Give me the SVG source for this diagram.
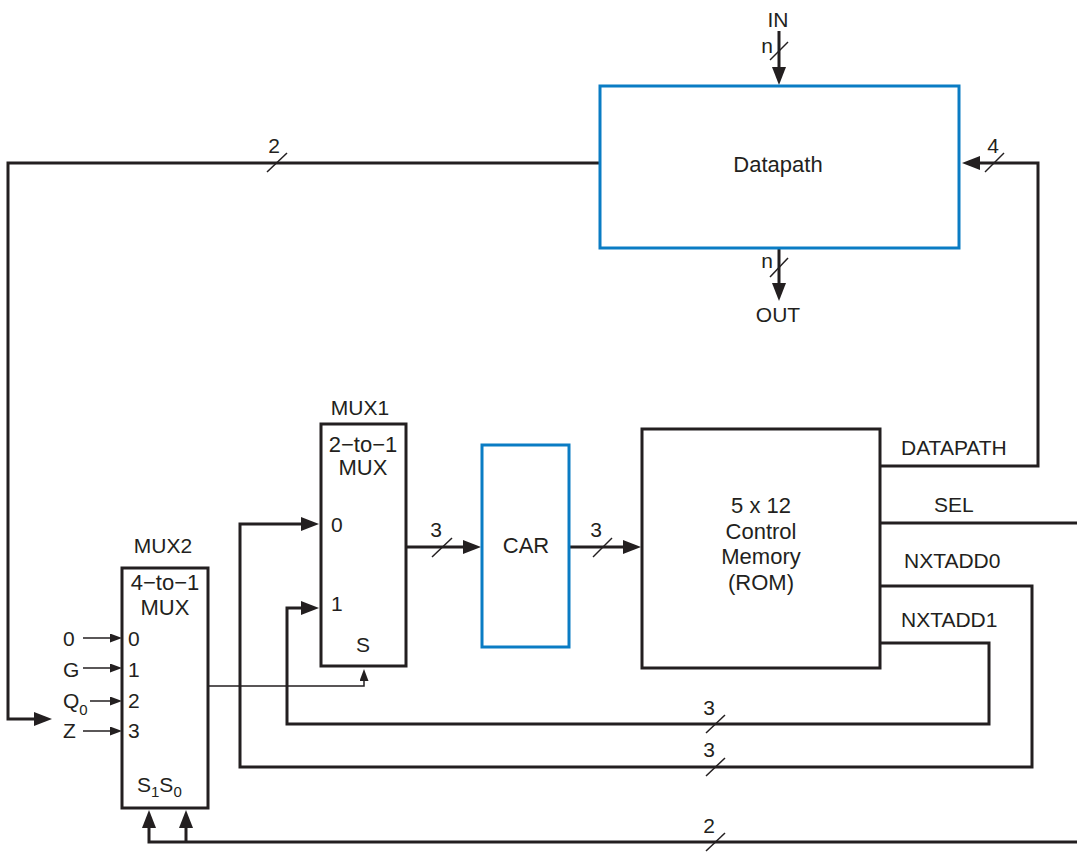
<svg xmlns="http://www.w3.org/2000/svg" width="1077" height="852" viewBox="0 0 1077 852">
<style>
text{font-family:"Liberation Sans",Arial,sans-serif;font-size:21px;fill:#231f20}
.c{text-anchor:middle}
.b{font-size:22px}
.sub{font-size:15px}
.blk{fill:#fff;stroke:#231f20;stroke-width:3}
.blue{fill:#fff;stroke:#0a7cc4;stroke-width:3}
.w{fill:none;stroke:#231f20;stroke-width:3}
.t{fill:none;stroke:#231f20;stroke-width:1.5}
</style>
<defs>
<marker id="ah" markerUnits="userSpaceOnUse" markerWidth="18" markerHeight="15" refX="9" refY="7" orient="auto"><path d="M0,0 L18,7 L0,14 Z" fill="#231f20"/></marker>
<marker id="as" markerUnits="userSpaceOnUse" markerWidth="12" markerHeight="10" refX="6" refY="4.5" orient="auto"><path d="M0,0 L12,4.5 L0,9 Z" fill="#231f20"/></marker>
</defs>
<rect width="1077" height="852" fill="#fff"/>
<g id="connectors">
<path class="w" d="M779,31 V76" marker-end="url(#ah)"/>
<path class="w" d="M779,249 V292" marker-end="url(#ah)"/>
<path class="w" d="M880,466 H1038 V163 H971" marker-end="url(#ah)"/>
<path class="w" d="M600,163 H8 V719 H43" marker-end="url(#ah)"/>
<path class="t" d="M208,686 H364 V675" marker-end="url(#as)"/>
<path class="w" d="M880,643 H989 V724 H287 V608 H310" marker-end="url(#ah)"/>
<path class="w" d="M880,586 H1032 V767 H240 V524 H310" marker-end="url(#ah)"/>
<path class="w" d="M406,547 H472" marker-end="url(#ah)"/>
<path class="w" d="M569,547 H632" marker-end="url(#ah)"/>
<path class="w" d="M880,523 H1077"/>
<path class="w" d="M1077,842 H149 V819" marker-end="url(#ah)"/>
<path class="w" d="M186,842 V819" marker-end="url(#ah)"/>
<path class="t" d="M83,638 H116" marker-end="url(#as)"/>
<path class="t" d="M83,668 H116" marker-end="url(#as)"/>
<path class="t" d="M90,701 H116" marker-end="url(#as)"/>
<path class="t" d="M83,731 H116" marker-end="url(#as)"/>
<g class="t">
<path d="M770,60 L788,42"/>
<path d="M770,277 L788,258"/>
<path d="M985,172 L1004,153"/>
<path d="M267,172 L287,153"/>
<path d="M432,557 L452,538"/>
<path d="M593,557 L612,538"/>
<path d="M706,733 L725,715"/>
<path d="M706,776 L725,758"/>
<path d="M706,851 L725,833"/>
</g>
<text class="c" x="778" y="27">IN</text>
<text class="c" x="767" y="53">n</text>
<text class="c" x="767" y="268">n</text>
<text class="c" x="778" y="322">OUT</text>
<text class="c" x="993" y="153">4</text>
<text class="c" x="274" y="153">2</text>
<text class="c" x="436" y="537">3</text>
<text class="c" x="596" y="537">3</text>
<text class="c" x="709" y="715">3</text>
<text class="c" x="709" y="757">3</text>
<text class="c" x="709" y="833">2</text>
<text x="901" y="455">DATAPATH</text>
<text x="934" y="512">SEL</text>
<text x="904" y="568">NXTADD0</text>
<text x="901" y="627">NXTADD1</text>
<text x="63" y="646">0</text>
<text x="63" y="677">G</text>
<text x="63" y="708">Q<tspan class="sub" dy="7">0</tspan></text>
<text x="63" y="738">Z</text>
</g>
<g id="datapath">
<rect class="blue" x="600" y="86" width="359" height="162"/>
<text class="c b" x="778" y="172">Datapath</text>
</g>
<g id="car">
<rect class="blue" x="482" y="445" width="87" height="202"/>
<text class="c b" x="526" y="553">CAR</text>
</g>
<g id="rom">
<rect class="blk" x="642" y="429" width="238" height="239"/>
<text class="c b" x="761" y="513">5 x 12</text>
<text class="c b" x="761" y="539">Control</text>
<text class="c b" x="761" y="564">Memory</text>
<text class="c b" x="761" y="590">(ROM)</text>
</g>
<g id="mux1">
<rect class="blk" x="321" y="424" width="85" height="242"/>
<text class="c" x="360" y="415">MUX1</text>
<text class="c b" x="363" y="452">2−to−1</text>
<text class="c b" x="363" y="475">MUX</text>
<text x="331" y="532">0</text>
<text x="331" y="611">1</text>
<text class="c" x="363" y="652">S</text>
</g>
<g id="mux2">
<rect class="blk" x="122" y="568" width="86" height="240"/>
<text class="c" x="163" y="553">MUX2</text>
<text class="c b" x="165" y="590">4−to−1</text>
<text class="c b" x="165" y="615">MUX</text>
<text x="128" y="646">0</text>
<text x="128" y="677">1</text>
<text x="128" y="708">2</text>
<text x="128" y="738">3</text>
<text x="137" y="792">S<tspan class="sub" dy="5">1</tspan><tspan dy="-5">S</tspan><tspan class="sub" dy="5">0</tspan></text>
</g>
</svg>
